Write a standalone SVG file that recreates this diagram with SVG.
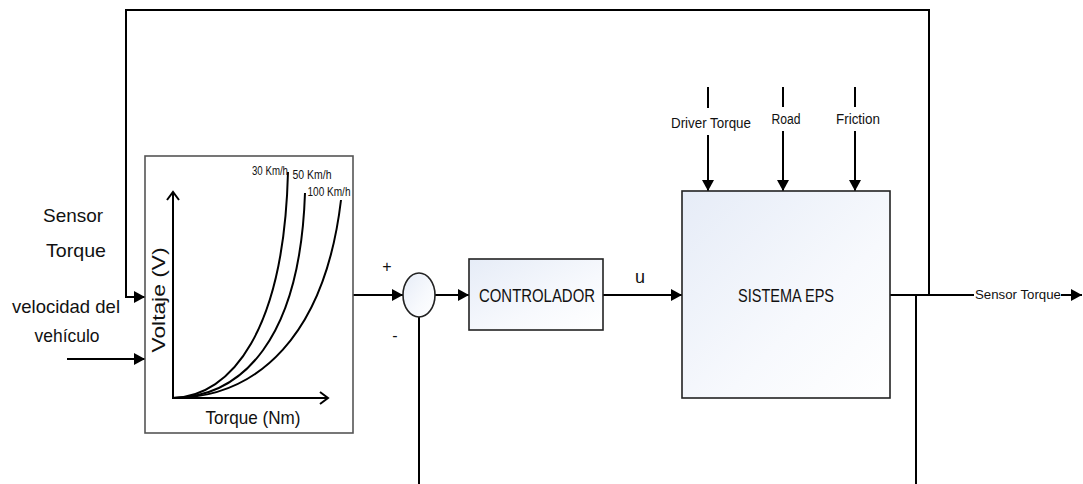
<svg xmlns="http://www.w3.org/2000/svg" width="1083" height="484" viewBox="0 0 1083 484">
  <style>
    .wire { fill: none; stroke: #000; stroke-width: 2; }
    .arr { marker-end: url(#head); }
    .block { fill: url(#blockFill); stroke: #222; stroke-width: 1.6; }
    .lbl { font-family: "Liberation Sans", Arial, sans-serif; fill: #111; }
    .curve { fill: none; stroke: #000; stroke-width: 2; }
  </style>
  <defs>
    <marker id="head" markerUnits="userSpaceOnUse" markerWidth="11" markerHeight="12" refX="11" refY="6" orient="auto">
      <path d="M0,0 L11,6 L0,12 z" fill="#000"/>
    </marker>
    <linearGradient id="blockFill" x1="0" y1="0" x2="1" y2="1">
      <stop offset="0" stop-color="#e6ecf7"/>
      <stop offset="0.6" stop-color="#f7f9fd"/>
      <stop offset="1" stop-color="#ffffff"/>
    </linearGradient>
  </defs>

  <rect width="1083" height="484" fill="#fff"/>

  <!-- connectors -->
  <g id="connectors">
    <path class="wire arr" d="M929,295 V10 H126 V297 H145"/>
    <path class="wire arr" d="M67,359 H145"/>
    <path class="wire arr" d="M353,295 H403"/>
    <path class="wire arr" d="M435,295 H469"/>
    <path class="wire arr" d="M603,295 H682"/>
    <path class="wire" d="M890,295 H974"/>
    <path class="wire arr" d="M1061,295 H1082"/>
    <path class="wire" d="M916,295 V484"/>
    <path class="wire" d="M419,316 V484"/>
    <path class="wire" d="M708,87 V108"/>
    <path class="wire arr" d="M708,135 V191"/>
    <path class="wire" d="M783,87 V107"/>
    <path class="wire arr" d="M783,131 V191"/>
    <path class="wire" d="M855,87 V107"/>
    <path class="wire arr" d="M855,131 V191"/>
  </g>

  <!-- connector labels -->
  <g id="labels">
    <text class="lbl" x="73" y="222" font-size="19" text-anchor="middle" textLength="60" lengthAdjust="spacingAndGlyphs">Sensor</text>
    <text class="lbl" x="76" y="257" font-size="19" text-anchor="middle" textLength="60" lengthAdjust="spacingAndGlyphs">Torque</text>
    <text class="lbl" x="66" y="313" font-size="19" text-anchor="middle" textLength="108" lengthAdjust="spacingAndGlyphs">velocidad del</text>
    <text class="lbl" x="67" y="342" font-size="19" text-anchor="middle" textLength="65" lengthAdjust="spacingAndGlyphs">vehículo</text>
    <text class="lbl" x="387" y="272" font-size="16" text-anchor="middle" fill="#000">+</text>
    <text class="lbl" x="395" y="341" font-size="16" text-anchor="middle">-</text>
    <text class="lbl" x="640" y="283" font-size="18" text-anchor="middle">u</text>
    <text class="lbl" x="711" y="128" font-size="14" text-anchor="middle" textLength="80" lengthAdjust="spacingAndGlyphs">Driver Torque</text>
    <text class="lbl" x="786" y="124" font-size="14" text-anchor="middle" textLength="29" lengthAdjust="spacingAndGlyphs">Road</text>
    <text class="lbl" x="858" y="124" font-size="14" text-anchor="middle" textLength="44" lengthAdjust="spacingAndGlyphs">Friction</text>
    <text class="lbl" x="1018" y="299" font-size="13" text-anchor="middle" textLength="86" lengthAdjust="spacingAndGlyphs">Sensor Torque</text>
  </g>

  <!-- torque / voltage map -->
  <g id="map">
    <rect x="145" y="156" width="208" height="277" fill="#fff" stroke="#555" stroke-width="1.6"/>
    <path class="wire" d="M173,192 V398 H328"/>
    <path class="wire" d="M167,200 L173,192 L179,200"/>
    <path class="wire" d="M320,392 L328,398 L320,404"/>
    <path class="curve" d="M173,398 C232,396 284,330 288,172"/>
    <path class="curve" d="M173,398 C242,397 300,340 305,193"/>
    <path class="curve" d="M173,398 C258,398 325,335 341,200"/>
    <text class="lbl" x="270" y="175" font-size="12" text-anchor="middle" textLength="36" lengthAdjust="spacingAndGlyphs">30 Km/h</text>
    <text class="lbl" x="312" y="179" font-size="12" text-anchor="middle" textLength="39" lengthAdjust="spacingAndGlyphs">50 Km/h</text>
    <text class="lbl" x="329" y="196" font-size="12" text-anchor="middle" textLength="43" lengthAdjust="spacingAndGlyphs">100 Km/h</text>
    <text class="lbl" x="0" y="0" font-size="19" text-anchor="middle" textLength="105" lengthAdjust="spacingAndGlyphs" transform="translate(165,300) rotate(-90)">Voltaje (V)</text>
    <text class="lbl" x="253" y="424" font-size="19" text-anchor="middle" textLength="95" lengthAdjust="spacingAndGlyphs">Torque (Nm)</text>
  </g>

  <!-- summing junction -->
  <g id="sum">
    <ellipse cx="419" cy="295" rx="16" ry="22" class="block"/>
  </g>

  <!-- controller -->
  <g id="controlador">
    <rect x="469" y="259" width="134" height="71" class="block"/>
    <text class="lbl" x="537" y="302" font-size="18" text-anchor="middle" textLength="116" lengthAdjust="spacingAndGlyphs">CONTROLADOR</text>
  </g>

  <!-- plant -->
  <g id="sistema-eps">
    <rect x="682" y="191" width="208" height="207" class="block"/>
    <text class="lbl" x="786" y="302" font-size="18" text-anchor="middle" textLength="96" lengthAdjust="spacingAndGlyphs">SISTEMA EPS</text>
  </g>
</svg>
